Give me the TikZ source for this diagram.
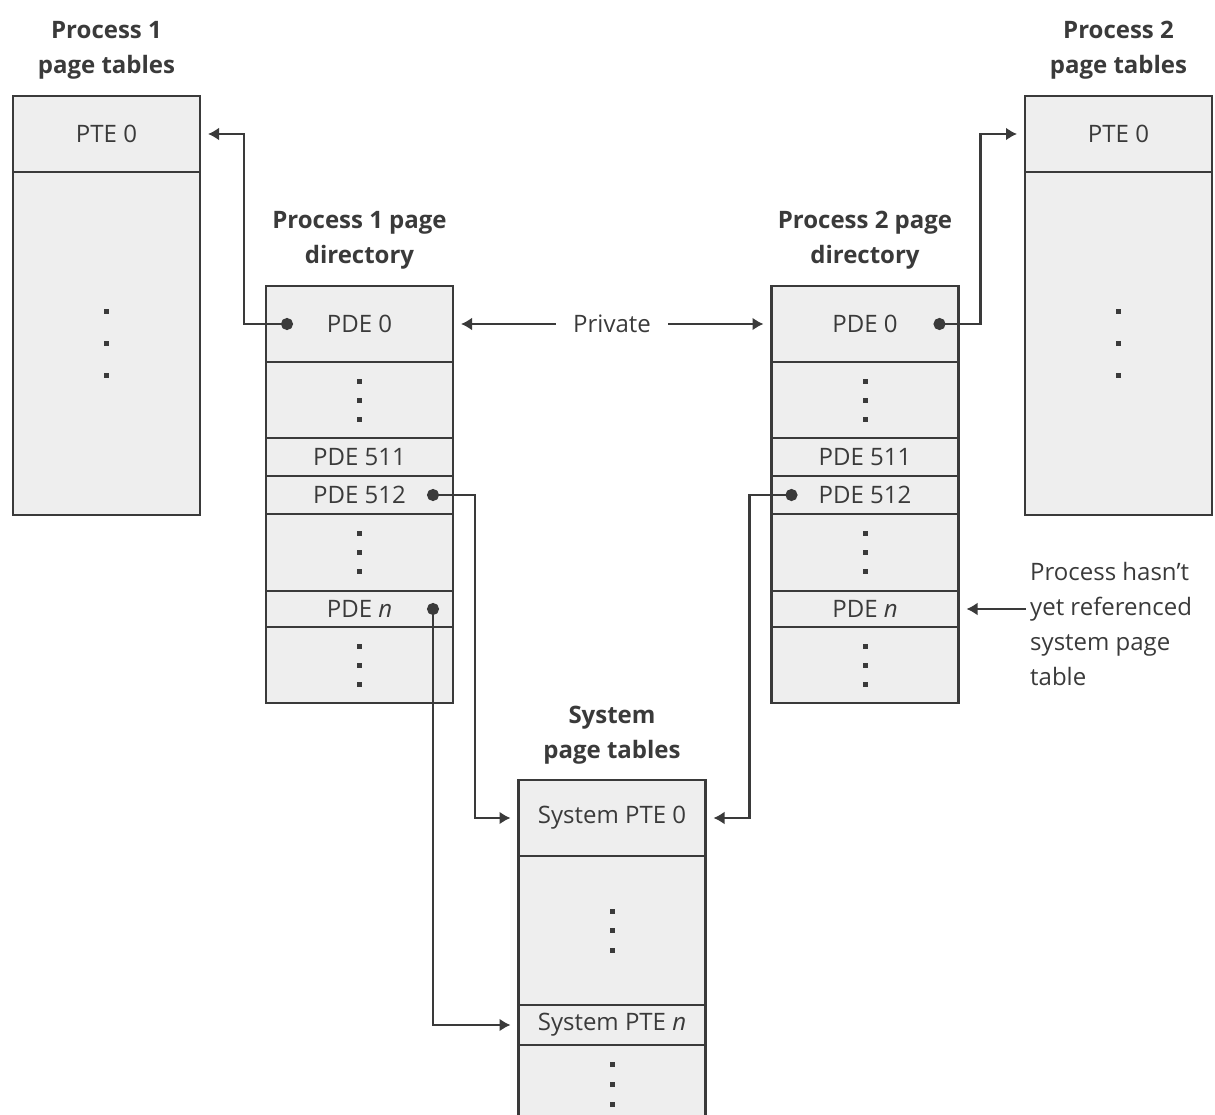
\documentclass[tikz,border=0pt]{standalone}
\usepackage{fontspec}
\setmainfont{Open Sans}
\usetikzlibrary{arrows.meta}
\definecolor{edge}{HTML}{3A3A3A}
\definecolor{cell}{HTML}{EEEEEE}
\newcommand{\rowdots}[2]{\foreach \k in {-1,0,1} \fill[edge] ([yshift=\k*#2]#1.center) ++(-2.5,-2.5) rectangle ++(5,5);}

\begin{document}
\begin{tikzpicture}[x=1pt, y=-1pt,
    every node/.style={font=\fontsize{24}{35}\selectfont, text=edge},
    row/.style={draw=edge, fill=cell, line width=2.6pt, minimum width=187pt, inner sep=0pt, outer sep=0pt},
    title/.style={font=\fontsize{24}{35}\selectfont\bfseries, align=center},
    link/.style={draw=edge, line width=2.6pt, {Circle[length=12pt]}-{Latex[length=11pt, width=13pt]}, shorten >=8pt},
    arr/.style={draw=edge, line width=2.6pt, -{Latex[length=11pt, width=13pt]}, shorten >=8pt}]
    \useasboundingbox (0,0) rectangle (1215,1115);
    % page tables of both processes
    \foreach \t/\x/\n in {t1/106.5/1, t2/1118.5/2} {
        \node[row, minimum height=76] (\t pte0) at (\x,134) {PTE 0};
        \node[row, minimum height=343] (\t rest) at (\x,343.5) {};
        \node[title] (\t title) at (\x,50.5) {Process \n\\page tables};
        \rowdots{\t rest}{32}
    }
    % page directories
    \foreach \d/\x/\n in {d1/359.5/1, d2/865/2} {
        \node[row, minimum height=76] (\d pde0) at (\x,324) {PDE 0};
        \node[row, minimum height=76] (\d dotsa) at (\x,400) {};
        \node[row, minimum height=38] (\d pde511) at (\x,457) {PDE 511};
        \node[row, minimum height=38] (\d pde512) at (\x,495) {PDE 512};
        \node[row, minimum height=77] (\d dotsb) at (\x,552.5) {};
        \node[row, minimum height=36] (\d pden) at (\x,609) {PDE \textit{n}};
        \node[row, minimum height=76] (\d dotsc) at (\x,665) {};
        \node[title] (\d title) at (\x,240) {Process \n{} page\\directory};
        \rowdots{\d dotsa}{19}
        \rowdots{\d dotsb}{19}
        \rowdots{\d dotsc}{19}
    }
    % system page tables
    \node[row, minimum height=76] (s0) at (612,818) {System PTE 0};
    \node[row, minimum height=149] (sdots) at (612,930.5) {};
    \node[row, minimum height=40] (sn) at (612,1025) {System PTE \textit{n}};
    \node[title] (stitle) at (612,735) {System\\page tables};
    \coordinate (srest) at (612,1084);
    \fill[cell] (sn.south west) rectangle (sn.east |- 0,1115);
    \draw[edge, line width=2.6pt] (sn.west |- 0,1115) -- (sn.south west) -- (sn.south east) -- (sn.east |- 0,1115);
    \rowdots{sdots}{19.5}
    \rowdots{srest}{20}
    % connectors
    \coordinate (b1) at ([xshift=27]d1pde0.west);
    \coordinate (b2) at ([xshift=-25]d2pde0.east);
    \coordinate (b3) at ([xshift=-26]d1pde512.east);
    \coordinate (b4) at ([xshift=-20, yshift=6]d1pden.east);
    \coordinate (b5) at ([xshift=26]d2pde512.west);
    \draw[link] (b1) -- ++(-49,0) |- (t1pte0.east);
    \draw[link] (b2) -- ++(47,0) |- (t2pte0.west);
    \draw[link] (b3) -- ++(48,0) |- (s0.west);
    \draw[link] (b4) |- (sn.west);
    \draw[link] (b5) -- ++(-48,0) |- (s0.east);
    \node[inner xsep=17pt] (priv) at (612,324) {Private};
    \draw[arr] (priv.west) -- (d1pde0.east);
    \draw[arr] (priv.east) -- (d2pde0.west);
    \node[align=left, anchor=west, inner sep=4pt] (note) at (1026,624) {Process hasn't\\yet referenced\\system page\\table};
    \draw[arr] (note.west |- d2pden.east) -- (d2pden.east);
\end{tikzpicture}
\end{document}
